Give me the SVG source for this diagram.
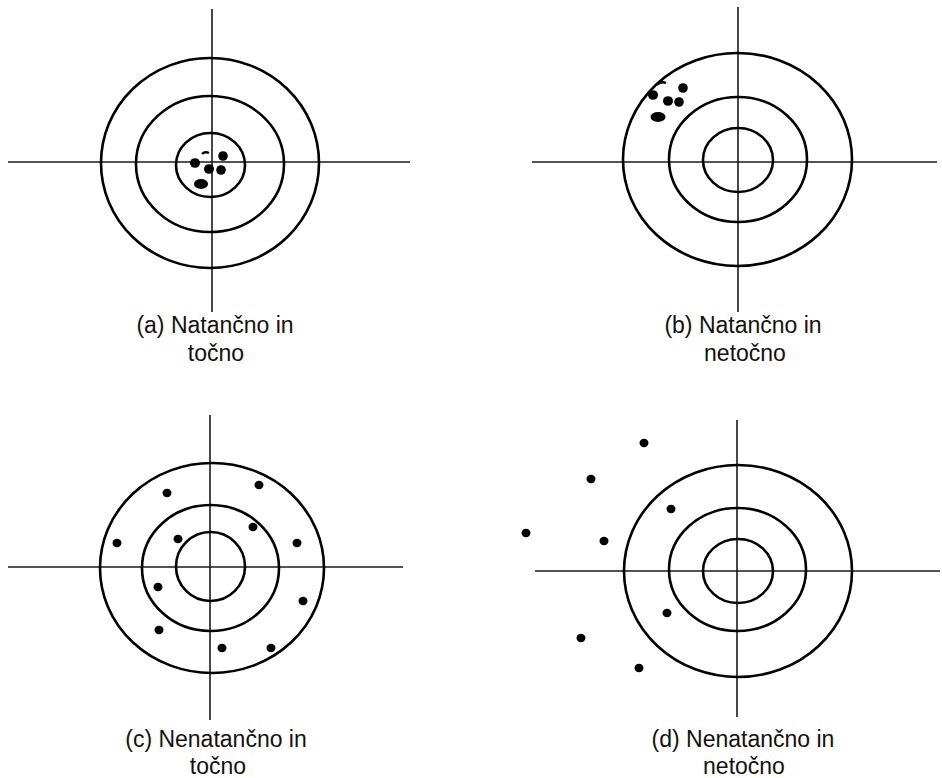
<svg xmlns="http://www.w3.org/2000/svg" width="942" height="778" viewBox="0 0 942 778">
<style>
.ring{fill:none;stroke:#000;stroke-width:2.6}
.axis{stroke:#1a1a1a;stroke-width:1.6;fill:none}
.dot{fill:#000}
.lbl{font-family:"Liberation Sans",Arial,sans-serif;font-size:23px;fill:#111;text-anchor:middle}
</style>
<rect width="942" height="778" fill="#fff"/>
<g id="connectors">
<line class="axis" x1="212" y1="9" x2="212" y2="312"/>
<line class="axis" x1="8" y1="162" x2="410" y2="162"/>
<line class="axis" x1="738" y1="7" x2="738" y2="312"/>
<line class="axis" x1="532" y1="162" x2="937" y2="162"/>
<line class="axis" x1="210" y1="415" x2="210" y2="720"/>
<line class="axis" x1="8" y1="567" x2="403" y2="567"/>
<line class="axis" x1="737" y1="420" x2="737" y2="717"/>
<line class="axis" x1="535" y1="571" x2="940" y2="571"/>
</g>
<g id="target-a">
<ellipse class="ring" cx="210" cy="163" rx="109" ry="105"/>
<ellipse class="ring" cx="210" cy="164" rx="74" ry="68"/>
<ellipse class="ring" cx="210.5" cy="165" rx="34.5" ry="32"/>
<ellipse class="dot" cx="195" cy="163" rx="5" ry="4.8"/>
<ellipse class="dot" cx="223" cy="156" rx="4.8" ry="4.8"/>
<ellipse class="dot" cx="209" cy="169" rx="5" ry="4.8"/>
<ellipse class="dot" cx="221" cy="170" rx="4.8" ry="4.8"/>
<ellipse class="dot" cx="201" cy="184" rx="7" ry="5"/>
<path d="M202 154 Q205 151 209 153" fill="none" stroke="#000" stroke-width="2.4"/>
<text class="lbl" x="215" y="333">(a) Natančno in</text>
<text class="lbl" x="216" y="361">točno</text>
</g>
<g id="target-b">
<ellipse class="ring" cx="737.5" cy="159.5" rx="114.5" ry="106.5"/>
<ellipse class="ring" cx="738" cy="159.5" rx="69" ry="62.5"/>
<ellipse class="ring" cx="738" cy="160" rx="35" ry="32"/>
<ellipse class="dot" cx="653" cy="95" rx="5" ry="4.8"/>
<ellipse class="dot" cx="668" cy="101" rx="5" ry="4.8"/>
<ellipse class="dot" cx="679" cy="102" rx="4.8" ry="4.8"/>
<ellipse class="dot" cx="683" cy="88" rx="4.8" ry="4.8"/>
<ellipse class="dot" cx="658" cy="117" rx="7.5" ry="5"/>
<path d="M657 85 Q661 81 666 83" fill="none" stroke="#000" stroke-width="2.4"/>
<text class="lbl" x="743" y="333">(b) Natančno in</text>
<text class="lbl" x="745" y="361">netočno</text>
</g>
<g id="target-c">
<ellipse class="ring" cx="212" cy="568" rx="112" ry="105"/>
<ellipse class="ring" cx="210.5" cy="568" rx="68.5" ry="63"/>
<ellipse class="ring" cx="210.5" cy="566.5" rx="34.5" ry="34.5"/>
<ellipse class="dot" cx="167" cy="493" rx="4.5" ry="4.2"/>
<ellipse class="dot" cx="259" cy="485" rx="4.5" ry="4.2"/>
<ellipse class="dot" cx="253" cy="527" rx="4.5" ry="4.2"/>
<ellipse class="dot" cx="178" cy="539" rx="4.5" ry="4.2"/>
<ellipse class="dot" cx="117" cy="543" rx="4.5" ry="4.2"/>
<ellipse class="dot" cx="297" cy="543" rx="4.5" ry="4.2"/>
<ellipse class="dot" cx="158" cy="587" rx="4.5" ry="4.2"/>
<ellipse class="dot" cx="303" cy="601" rx="4.5" ry="4.2"/>
<ellipse class="dot" cx="159" cy="630" rx="4.5" ry="4.2"/>
<ellipse class="dot" cx="222" cy="648" rx="4.5" ry="4.2"/>
<ellipse class="dot" cx="271" cy="648" rx="4.5" ry="4.2"/>
<text class="lbl" x="216" y="747">(c) Nenatančno in</text>
<text class="lbl" x="218" y="774">točno</text>
</g>
<g id="target-d">
<ellipse class="ring" cx="738" cy="571" rx="114" ry="106"/>
<ellipse class="ring" cx="737.5" cy="569.5" rx="68.5" ry="61.5"/>
<ellipse class="ring" cx="738" cy="571" rx="35" ry="32"/>
<ellipse class="dot" cx="644" cy="443" rx="4.5" ry="4.2"/>
<ellipse class="dot" cx="591" cy="479" rx="4.5" ry="4.2"/>
<ellipse class="dot" cx="671" cy="509" rx="4.5" ry="4.2"/>
<ellipse class="dot" cx="526" cy="533" rx="4.5" ry="4.2"/>
<ellipse class="dot" cx="604" cy="541" rx="4.5" ry="4.2"/>
<ellipse class="dot" cx="667" cy="613" rx="4.5" ry="4.2"/>
<ellipse class="dot" cx="581" cy="638" rx="4.5" ry="4.2"/>
<ellipse class="dot" cx="639" cy="668" rx="4.5" ry="4.2"/>
<text class="lbl" x="743" y="747">(d) Nenatančno in</text>
<text class="lbl" x="744" y="774">netočno</text>
</g>
</svg>
